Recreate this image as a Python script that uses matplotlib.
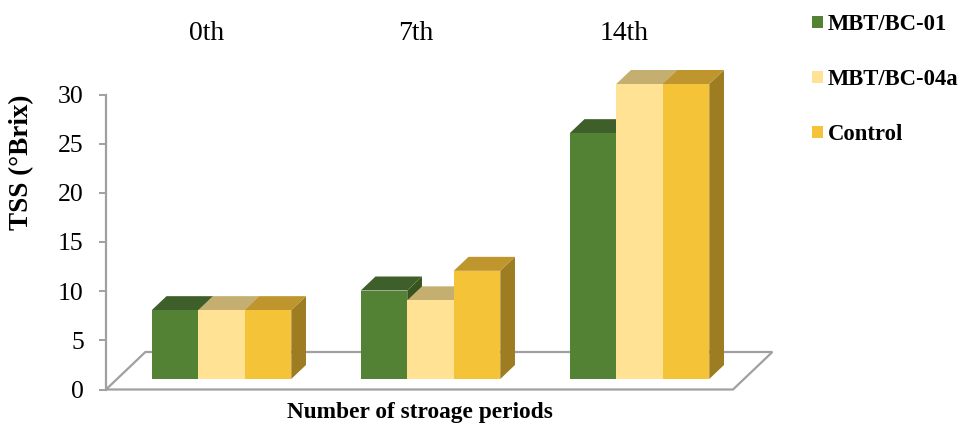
import numpy as np
import matplotlib.pyplot as plt
import matplotlib.transforms as mtransforms
from matplotlib.patches import Polygon, Rectangle, Patch

# TSS readings per storage period
periods = ['0th', '7th', '14th']
series = ['MBT/BC-01', 'MBT/BC-04a', 'Control']
tss_bc01 = [7, 9, 25]
tss_bc04a = [7, 8, 30]
tss_control = [7, 11, 30]
y_ticks = [0, 5, 10, 15, 20, 25, 30]

front_colors = ['#548235', '#FFE293', '#F5C338']
top_colors = ['#3E5F29', '#C4AE70', '#BF952D']
side_colors = ['#37541F', '#B09A60', '#9E7C22']
grid_grey = '#A0A0A0'

plt.rcParams['font.family'] = ['Liberation Serif', 'DejaVu Serif']

W, H = 963, 426
fig = plt.figure(figsize=(W / 100, H / 100), dpi=100)

# axes box in pixels (front plane of the 3D floor)
px_left, px_right, px_bottom, px_top = 106, 733, 389.5, 94.5
ax = fig.add_axes([px_left / W, 1 - px_bottom / H,
                   (px_right - px_left) / W, (px_bottom - px_top) / H])
ax.set_xlim(-0.5, 2.5)
ax.set_ylim(0, 30)

# pixel -> data conversion for the oblique depth offsets
ux = (px_right - px_left) / 3.0
uy = (px_bottom - px_top) / 30.0


def depth(d):
    """Oblique shift for a depth of d pixels (up and to the right)."""
    return d * 1.05 / ux, d / uy


# floor
fdx, fdy = depth(37.5)
floor = Polygon([(-0.5, 0), (2.5, 0), (2.5 + fdx, fdy), (-0.5 + fdx, fdy)],
                closed=True, facecolor='white', edgecolor=grid_grey,
                linewidth=1.6, clip_on=False, zorder=1)
ax.add_patch(floor)

# bars
values = [tss_bc01, tss_bc04a, tss_control]
bar_w = 0.2225
bx, by = depth(10.5)
tdx, tdy = depth(14)
for i in range(len(periods)):
    for k in range(len(series)):
        v = values[k][i]
        x0 = i - 1.5 * bar_w + k * bar_w + bx
        y0 = by
        y1 = y0 + v
        side = Polygon([(x0 + bar_w, y0), (x0 + bar_w + tdx, y0 + tdy),
                        (x0 + bar_w + tdx, y1 + tdy), (x0 + bar_w, y1)],
                       closed=True, facecolor=side_colors[k], edgecolor='none',
                       clip_on=False, zorder=2)
        top = Polygon([(x0, y1), (x0 + bar_w, y1), (x0 + bar_w + tdx, y1 + tdy),
                       (x0 + tdx, y1 + tdy)],
                      closed=True, facecolor=top_colors[k], edgecolor='none',
                      clip_on=False, zorder=2)
        front = Rectangle((x0, y0), bar_w, v, facecolor=front_colors[k],
                          edgecolor='none', clip_on=False, zorder=2)
        ax.add_patch(side)
        ax.add_patch(top)
        ax.add_patch(front)

# axes styling
for s in ['top', 'right', 'bottom']:
    ax.spines[s].set_visible(False)
ax.spines['left'].set_color(grid_grey)
ax.spines['left'].set_linewidth(1.6)
ax.spines['left'].set_zorder(3)
ax.set_yticks(y_ticks)
ax.tick_params(axis='y', direction='out', length=5, width=1.4, color=grid_grey,
               labelcolor='black', labelsize=18.5, pad=11)
ax.set_xticks([])

# category labels above the bars
trans = mtransforms.blended_transform_factory(ax.transData, fig.transFigure)
for i, p in enumerate(periods):
    ax.text(i - 0.02, 1 - 33 / H, p, transform=trans, ha='center', va='center',
            fontsize=20)

ax.set_ylabel('TSS (°Brix)', fontsize=19.5, fontweight='bold')
ax.yaxis.set_label_coords(-0.134, 0.77)
ax.yaxis.label.set_verticalalignment('center')

ax.set_xlabel('Number of stroage periods', fontsize=16.8, fontweight='bold')
ax.xaxis.set_label_coords(0.5, -0.078)
ax.xaxis.label.set_verticalalignment('center')

handles = [Patch(facecolor=c, edgecolor='none') for c in front_colors]
fig.legend(handles, series, loc='upper left', bbox_to_anchor=(812 / W, 1 - 14 / H),
           frameon=False, prop={'weight': 'bold', 'size': 16.3},
           handlelength=0.48, handleheight=0.48, handletextpad=0.22,
           labelspacing=1.5, borderpad=0, borderaxespad=0)

fig.savefig('out.png', dpi=100)
